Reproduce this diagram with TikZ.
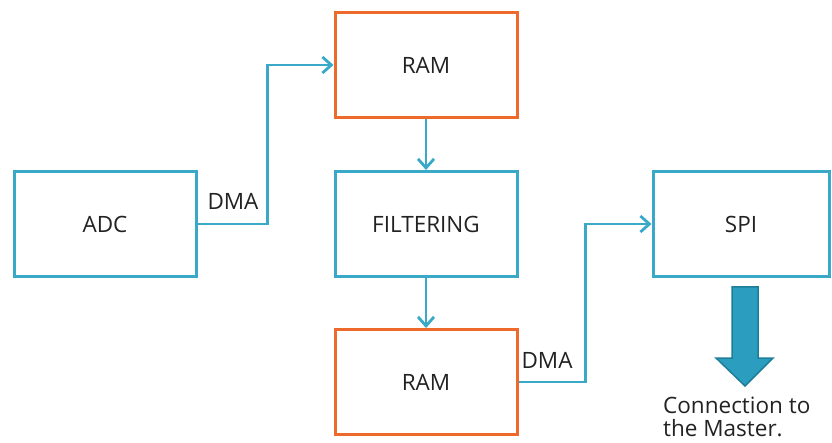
\documentclass[tikz,border=0pt]{standalone}
\usepackage{fontspec}
\setmainfont{Open Sans}
\usetikzlibrary{arrows.meta}
\definecolor{teal1}{HTML}{3AA9C8}
\definecolor{orng}{HTML}{EE6A2C}
\definecolor{txt}{HTML}{222222}
\definecolor{bigfill}{HTML}{2B9DBE}
\definecolor{bigedge}{HTML}{1E7E99}
\tikzset{
  box/.style={draw=teal1, line width=3pt, minimum width=182pt, minimum height=105pt, inner sep=0pt, text=txt, font=\fontsize{22.5}{26}\selectfont},
  rambox/.style={box, draw=orng},
  conn/.style={draw=teal1, line width=2.8pt, -{Straight Barb[length=9pt,width=16pt,line width=2.8pt]}},
  lbl/.style={text=txt, font=\fontsize{22.5}{26}\selectfont, inner sep=0pt}
}
\begin{document}
\begin{tikzpicture}[x=1pt,y=-1pt]
\useasboundingbox (0,0) rectangle (832,443);
\node[box] (adc) at (105,224) {ADC};
\node[rambox] (ram1) at (426,65) {RAM};
\node[box] (filt) at (426,224) {FILTERING};
\node[rambox] (ram2) at (426,382) {RAM};
\node[box, minimum width=176pt] (spi) at (741,224) {SPI};
\draw[conn] (adc.east) -- ++(70,0) coordinate (c1) |- (ram1.west);
\draw[conn] (ram1.south) -- (filt.north);
\draw[conn] (filt.south) -- (ram2.north);
\draw[conn] (ram2.east) -- ++(67,0) coordinate (c2) |- (spi.west);
\node[lbl] (dma1) at (233,201) {DMA};
\node[lbl] (dma2) at (547,360) {DMA};
\draw[fill=bigfill, draw=bigedge, line width=1.5pt, line join=miter]
  (732,287) -- (758,287) -- (758,358) -- (773,358) -- (745,386) -- (716,358) -- (732,358) -- cycle;
\node[lbl, anchor=north west, align=left, font=\fontsize{22.5}{23}\selectfont] (conn) at (663,397) {Connection to\\the Master.};
\end{tikzpicture}
\end{document}
